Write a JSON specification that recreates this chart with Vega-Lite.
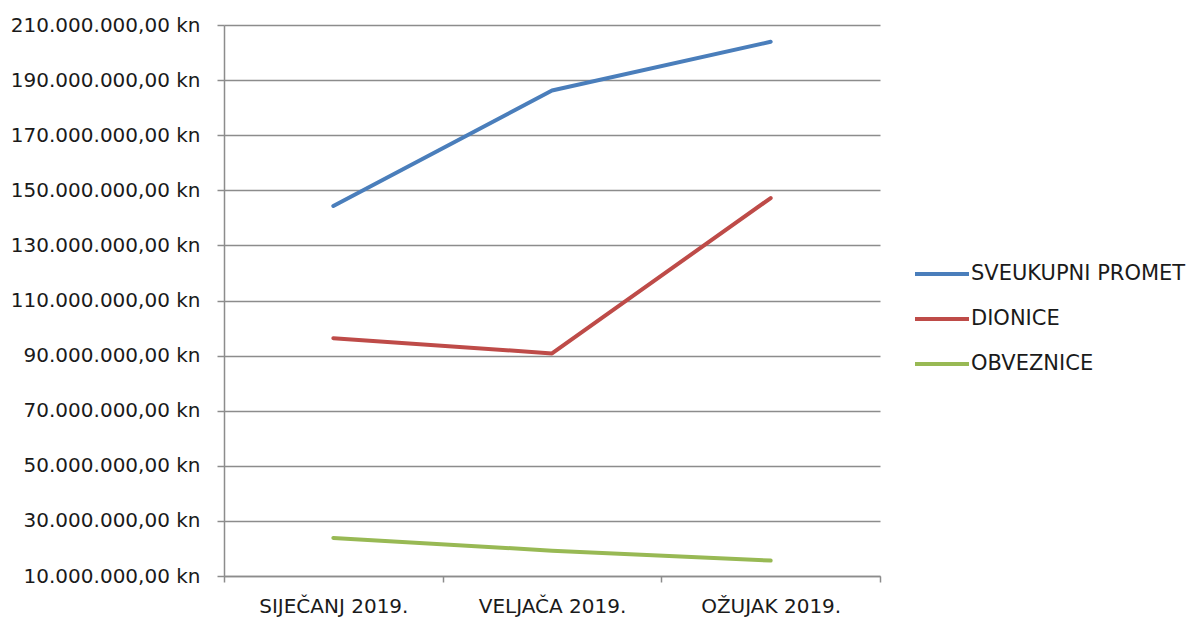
{
  "$schema": "https://vega.github.io/schema/vega-lite/v6.json",
  "width": 656,
  "height": 551,
  "autosize": {"type": "none"},
  "padding": {"left": 224, "top": 25, "right": 311, "bottom": 43},
  "background": "white",
  "config": {
    "locale": {"number": {"decimal": ",", "thousands": ".", "grouping": [3], "currency": ["", " kn"]}},
    "view": {"stroke": null},
    "font": "DejaVu Sans"
  },
  "data": {
    "values": [
      {"mjesec": "SIJEČANJ 2019.", "serija": "SVEUKUPNI PROMET", "iznos": 144300000},
      {"mjesec": "VELJAČA 2019.", "serija": "SVEUKUPNI PROMET", "iznos": 186200000},
      {"mjesec": "OŽUJAK 2019.", "serija": "SVEUKUPNI PROMET", "iznos": 203900000},
      {"mjesec": "SIJEČANJ 2019.", "serija": "DIONICE", "iznos": 96300000},
      {"mjesec": "VELJAČA 2019.", "serija": "DIONICE", "iznos": 90800000},
      {"mjesec": "OŽUJAK 2019.", "serija": "DIONICE", "iznos": 147200000},
      {"mjesec": "SIJEČANJ 2019.", "serija": "OBVEZNICE", "iznos": 23800000},
      {"mjesec": "VELJAČA 2019.", "serija": "OBVEZNICE", "iznos": 19200000},
      {"mjesec": "OŽUJAK 2019.", "serija": "OBVEZNICE", "iznos": 15600000}
    ]
  },
  "mark": {"type": "line", "strokeWidth": 4, "strokeCap": "round", "strokeJoin": "round"},
  "encoding": {
    "x": {
      "field": "mjesec",
      "type": "nominal",
      "sort": ["SIJEČANJ 2019.", "VELJAČA 2019.", "OŽUJAK 2019."],
      "bandPosition": 0.5,
      "scale": {"type": "band", "paddingInner": 0, "paddingOuter": 0},
      "axis": {
        "title": null,
        "labelAngle": 0,
        "tickBand": "extent",
        "tickSize": 6,
        "tickColor": "#8c8c8c",
        "tickWidth": 1.5,
        "domainColor": "#8c8c8c",
        "domainWidth": 1.5,
        "labelFont": "DejaVu Sans",
        "labelFontSize": 20,
        "labelColor": "#1a1a1a",
        "labelPadding": 14,
        "labelLimit": 0,
        "grid": false
      }
    },
    "y": {
      "field": "iznos",
      "type": "quantitative",
      "scale": {"domain": [10000000, 210000000], "nice": false, "zero": false},
      "axis": {
        "title": null,
        "values": [10000000, 30000000, 50000000, 70000000, 90000000, 110000000, 130000000, 150000000, 170000000, 190000000, 210000000],
        "format": "$,.2f",
        "tickSize": 7,
        "tickColor": "#8c8c8c",
        "tickWidth": 1.5,
        "domainColor": "#8c8c8c",
        "domainWidth": 1.5,
        "grid": true,
        "gridColor": "#8c8c8c",
        "gridWidth": 1.5,
        "labelFont": "DejaVu Sans",
        "labelFontSize": 20,
        "labelColor": "#1a1a1a",
        "labelPadding": 17,
        "labelLimit": 0
      }
    },
    "color": {
      "field": "serija",
      "type": "nominal",
      "sort": ["SVEUKUPNI PROMET", "DIONICE", "OBVEZNICE"],
      "scale": {"domain": ["SVEUKUPNI PROMET", "DIONICE", "OBVEZNICE"], "range": ["#4a7ebb", "#be4b48", "#98b954"]},
      "legend": {
        "title": null,
        "orient": "none",
        "legendX": 689,
        "legendY": 220,
        "symbolType": "stroke",
        "symbolSize": 2916,
        "symbolStrokeWidth": 4,
        "labelFont": "DejaVu Sans",
        "labelFontSize": 21,
        "labelLimit": 0,
        "labelColor": "#1a1a1a",
        "labelOffset": 0,
        "rowPadding": 6
      }
    }
  }
}
